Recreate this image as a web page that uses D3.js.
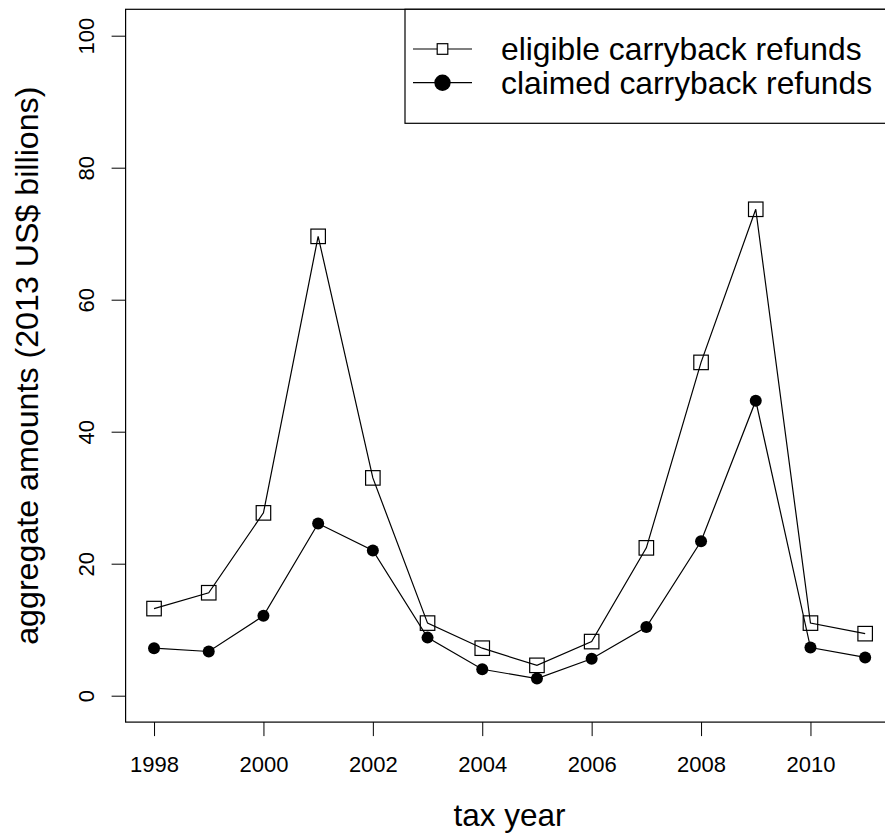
<!DOCTYPE html>
<html>
<head>
<meta charset="utf-8">
<script src="https://cdn.jsdelivr.net/npm/d3@7"></script>
<style>
  html, body { margin: 0; padding: 0; background: #fff; }
  svg { display: block; }
  text { font-family: "Liberation Sans", Arial, Helvetica, sans-serif; fill: #000; }
</style>
</head>
<body>
<script>
// Carryback refunds by tax year, in 2013 US$ billions
const years = [1998, 1999, 2000, 2001, 2002, 2003, 2004, 2005, 2006, 2007, 2008, 2009, 2010, 2011];
const eligible = [13.2, 15.6, 27.7, 69.6, 33.0, 11.0, 7.2, 4.6, 8.2, 22.4, 50.5, 73.7, 11.0, 9.4];
const claimed = [7.2, 6.7, 12.1, 26.1, 22.0, 8.8, 4.0, 2.6, 5.6, 10.4, 23.4, 44.7, 7.3, 5.8];
const xTicks = [1998, 2000, 2002, 2004, 2006, 2008, 2010];
const yTicks = [0, 20, 40, 60, 80, 100];
const seriesNames = ["eligible carryback refunds", "claimed carryback refunds"];

const W = 885, H = 835;
const plot = { left: 125.6, right: 893.6, top: 9.3, bottom: 722.1 };

const svg = d3.select("body").append("svg")
  .attr("width", W).attr("height", H);

// padded domains (4% either side)
const x = d3.scaleLinear().domain([1997.48, 2011.52]).range([plot.left, plot.right]);
const y = d3.scaleLinear().domain([-4, 104]).range([plot.bottom, plot.top]);

// x axis
const xAxis = svg.append("g")
  .attr("transform", `translate(0,${plot.bottom})`)
  .call(d3.axisBottom(x).tickValues(xTicks).tickFormat(d3.format("d")).tickSize(14).tickPadding(20));
xAxis.select(".domain").remove();
xAxis.selectAll("line").attr("stroke", "#000").attr("stroke-width", 1);
xAxis.selectAll("text").attr("font-size", 22).attr("font-family", null).attr("dy", "0.71em");

// y axis with rotated labels
const yAxis = svg.append("g")
  .attr("transform", `translate(${plot.left},0)`)
  .call(d3.axisLeft(y).tickValues(yTicks).tickSize(14).tickFormat(d3.format("d")));
yAxis.select(".domain").remove();
yAxis.selectAll("line").attr("stroke", "#000").attr("stroke-width", 1);
yAxis.selectAll("text")
  .attr("font-size", 22).attr("font-family", null)
  .attr("x", null).attr("dy", null)
  .attr("text-anchor", "middle")
  .attr("transform", "translate(-32,0) rotate(-90)");

// plot frame
svg.append("rect")
  .attr("x", plot.left).attr("y", plot.top)
  .attr("width", plot.right - plot.left).attr("height", plot.bottom - plot.top)
  .attr("fill", "none").attr("stroke", "#000").attr("stroke-width", 1.2);

// axis titles
svg.append("text")
  .attr("x", (plot.left + plot.right) / 2).attr("y", 826)
  .attr("text-anchor", "middle").attr("font-size", 31.5)
  .text("tax year");
svg.append("text")
  .attr("transform", `translate(37.5,${(plot.top + plot.bottom) / 2}) rotate(-90)`)
  .attr("text-anchor", "middle").attr("font-size", 32.2)
  .text("aggregate amounts (2013 US$ billions)");

const line = d3.line().x(d => x(d[0])).y(d => y(d[1]));
const ptsE = years.map((yr, i) => [yr, eligible[i]]);
const ptsC = years.map((yr, i) => [yr, claimed[i]]);

svg.append("path").datum(ptsE).attr("d", line)
  .attr("fill", "none").attr("stroke", "#000").attr("stroke-width", 1.2);
svg.append("path").datum(ptsC).attr("d", line)
  .attr("fill", "none").attr("stroke", "#000").attr("stroke-width", 1.2);

const sq = 14.5;
svg.append("g").selectAll("rect").data(ptsE).join("rect")
  .attr("x", d => x(d[0]) - sq / 2).attr("y", d => y(d[1]) - sq / 2)
  .attr("width", sq).attr("height", sq)
  .attr("fill", "none").attr("stroke", "#000").attr("stroke-width", 1.2);
svg.append("g").selectAll("circle").data(ptsC).join("circle")
  .attr("cx", d => x(d[0])).attr("cy", d => y(d[1])).attr("r", 6)
  .attr("fill", "#000");

// legend, anchored to the top-right corner of the plot
const lg = svg.append("g");
lg.append("rect")
  .attr("x", 405).attr("y", plot.top)
  .attr("width", plot.right - 405).attr("height", 123.3 - plot.top)
  .attr("fill", "#fff").attr("stroke", "#000").attr("stroke-width", 1.2);
const rows = [49, 82.7];
seriesNames.forEach((name, i) => {
  const ly = rows[i];
  lg.append("line").attr("x1", 413).attr("x2", 472).attr("y1", ly).attr("y2", ly)
    .attr("stroke", "#000").attr("stroke-width", 1.2);
  if (i === 0) {
    lg.append("rect").attr("x", 442.5 - 5.3).attr("y", ly - 5.3)
      .attr("width", 10.6).attr("height", 10.6)
      .attr("fill", "#fff").attr("stroke", "#000").attr("stroke-width", 1.2);
  } else {
    lg.append("circle").attr("cx", 442.5).attr("cy", ly).attr("r", 8.2).attr("fill", "#000");
  }
  lg.append("text").attr("x", 501).attr("y", ly + 11)
    .attr("font-size", 31.8).text(name);
});
</script>
</body>
</html>
